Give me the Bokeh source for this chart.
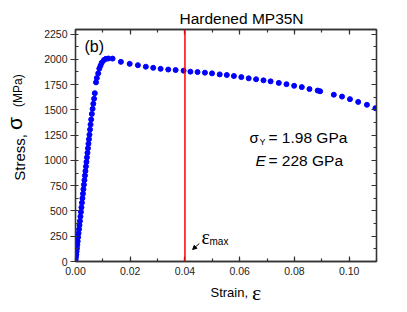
import math
from bokeh.plotting import figure
from bokeh.models import (Label, Span, Arrow, NormalHead, LinearAxis, Range1d, FixedTicker,
                          SingleIntervalTicker, NumeralTickFormatter, CustomJSTickFormatter)
from bokeh.embed import file_html
from bokeh.resources import INLINE

# ---- data ----
strain = [0.00005, 0.00015, 0.0003, 0.0004, 0.00053, 0.00067, 0.0008, 0.00097, 0.00113, 0.0013,
          0.00146, 0.00162, 0.0018, 0.00199, 0.00217, 0.00235, 0.00253, 0.00272, 0.0029, 0.00308,
          0.00327, 0.00345, 0.00363, 0.00381, 0.004, 0.00418, 0.00437, 0.00455, 0.00473, 0.00492,
          0.0051, 0.0053, 0.0055, 0.00572, 0.00597, 0.00625, 0.0065, 0.0068, 0.00705,
          0.0075, 0.0078, 0.0083, 0.0087, 0.00915, 0.0096, 0.0104, 0.0111, 0.0120,
          0.01354, 0.01659, 0.0198, 0.0228, 0.0257, 0.0284, 0.0311, 0.0339, 0.0366, 0.0395,
          0.0420, 0.0446, 0.0473, 0.0499, 0.0527, 0.0553, 0.0579, 0.0606, 0.0633, 0.0660,
          0.0687, 0.0713, 0.0743, 0.0771, 0.0799, 0.0827, 0.0855, 0.0885, 0.0894, 0.0944,
          0.0974, 0.1003, 0.1033, 0.1065, 0.1096]
stress = [20, 45, 70, 100, 130, 165, 200, 240, 280, 320,
          360, 400, 445, 490, 535, 580, 625, 670, 715, 760,
          805, 850, 895, 940, 985, 1030, 1075, 1120, 1165, 1210,
          1255, 1305, 1355, 1405, 1460, 1510, 1560, 1610, 1665,
          1772, 1815, 1861, 1908, 1938, 1967, 1993, 2005, 2008,
          2007, 1975, 1955, 1942, 1927, 1916, 1906, 1899, 1894, 1888,
          1878, 1874, 1868, 1861, 1851, 1845, 1835, 1824, 1812, 1803,
          1792, 1782, 1767, 1754, 1738, 1725, 1706, 1691, 1684, 1650,
          1631, 1606, 1579, 1550, 1517]
eps_max = 0.04
x_lim = (0.0, 0.11)
y_lim = (0.0, 2295.0)
title_text = "Hardened MP35N"
panel_tag = "(b)"

FONT = "Liberation Sans"
SERIF = "Liberation Serif"
AX = "#333333"

p = figure(frame_width=301, frame_height=232,
           min_border_left=73, min_border_right=32, min_border_top=29, min_border_bottom=50,
           x_range=Range1d(*x_lim), y_range=Range1d(*y_lim),
           output_backend="svg", toolbar_location=None, title=title_text)
p.title.text_font = FONT
p.title.text_font_size = "15.5px"
p.title.text_font_style = "normal"
p.title.text_color = "black"
p.title.align = "left"
p.title.offset = 104
p.title.standoff = 6

p.xgrid.visible = False
p.ygrid.visible = False
p.outline_line_color = AX
p.outline_line_width = 1.3

def style(ax):
    ax.axis_line_color = AX
    ax.axis_line_width = 1.3
    ax.major_tick_line_color = AX
    ax.minor_tick_line_color = AX
    ax.major_tick_line_width = 1.2
    ax.minor_tick_line_width = 1.2
    ax.major_label_text_font = FONT
    ax.major_label_text_font_size = "10.5px"
    ax.major_label_text_color = "#222222"

p.xaxis.ticker = SingleIntervalTicker(interval=0.02, num_minor_ticks=2)
p.xaxis.formatter = NumeralTickFormatter(format="0.00")
p.yaxis.ticker = SingleIntervalTicker(interval=250, num_minor_ticks=2)
style(p.xaxis[0]); style(p.yaxis[0])
p.xaxis.major_tick_in = 5; p.xaxis.major_tick_out = 0
p.xaxis.minor_tick_in = 3; p.xaxis.minor_tick_out = 0
p.yaxis.major_tick_in = 0; p.yaxis.major_tick_out = 5
p.yaxis.minor_tick_in = 3; p.yaxis.minor_tick_out = 0
p.xaxis.major_label_standoff = 5
p.yaxis.major_label_standoff = 3

blank = CustomJSTickFormatter(code="return ''")
top = LinearAxis(ticker=SingleIntervalTicker(interval=0.02, num_minor_ticks=2), formatter=blank)
right = LinearAxis(ticker=SingleIntervalTicker(interval=250, num_minor_ticks=2), formatter=blank)
for ax in (top, right):
    style(ax)
    ax.major_tick_in = 5; ax.major_tick_out = 0
    ax.minor_tick_in = 3; ax.minor_tick_out = 0
    ax.major_label_standoff = 0
p.add_layout(top, "above")
p.add_layout(right, "right")

# axis titles: one label per extra axis, placed at a chosen position along the axis
def text_axis(side, pos, text, size, font, standoff, orientation="horizontal"):
    ax = LinearAxis(ticker=FixedTicker(ticks=[pos], minor_ticks=[]),
                    formatter=CustomJSTickFormatter(args=dict(t=text), code="return t"))
    ax.axis_line_color = None
    ax.major_tick_line_color = None
    ax.minor_tick_line_color = None
    ax.major_tick_in = 0; ax.major_tick_out = 0
    ax.minor_tick_in = 0; ax.minor_tick_out = 0
    ax.major_label_standoff = standoff
    ax.major_label_text_font = font
    ax.major_label_text_font_size = size
    ax.major_label_text_color = "black"
    ax.major_label_orientation = orientation
    p.add_layout(ax, side)

text_axis("below", 0.0562, "Strain,", "13px", FONT, 7)
text_axis("below", 0.0662, "\u03b5", "22px", SERIF, -23)
text_axis("left", 1030, "Stress,", "15px", FONT, 13, "parallel")
text_axis("left", 1365, "\u03c3", "21px", FONT, -18, "parallel")
text_axis("left", 1690, "(MPa)", "12px", FONT, -25, "parallel")

p.scatter(strain, stress, size=5, color="#0000ff", line_color="#0000ff")
p.add_layout(Span(location=eps_max, dimension="height", line_color="#ff0000", line_width=1.5))

def lab(text, x, y, size, font=FONT, style="normal"):
    p.add_layout(Label(x=x, y=y, x_units="screen", y_units="screen", text=text,
                       text_font=font, text_font_size=size, text_font_style=style,
                       text_align="left", text_baseline="alphabetic", text_color="black"))

lab(panel_tag, 9, 215, "16px")
lab("\u03c3", 174, 124, "15px")
lab("Y", 184, 120, "9px")
lab("= 1.98 GPa", 193, 124, "15.5px")
lab("E", 180, 101, "15.5px", style="italic")
lab("= 228 GPa", 193, 101, "15.5px")
lab("\u03b5", 126, 25, "20px", font=SERIF)
lab("max", 134, 20, "10px")

p.add_layout(Arrow(x_start=0.04526, y_start=178, x_end=0.0428, y_end=119,
                   line_color="black", line_width=1,
                   end=NormalHead(size=4, fill_color="black", line_color="black")))

open("out.html", "w").write(file_html(p, INLINE))
